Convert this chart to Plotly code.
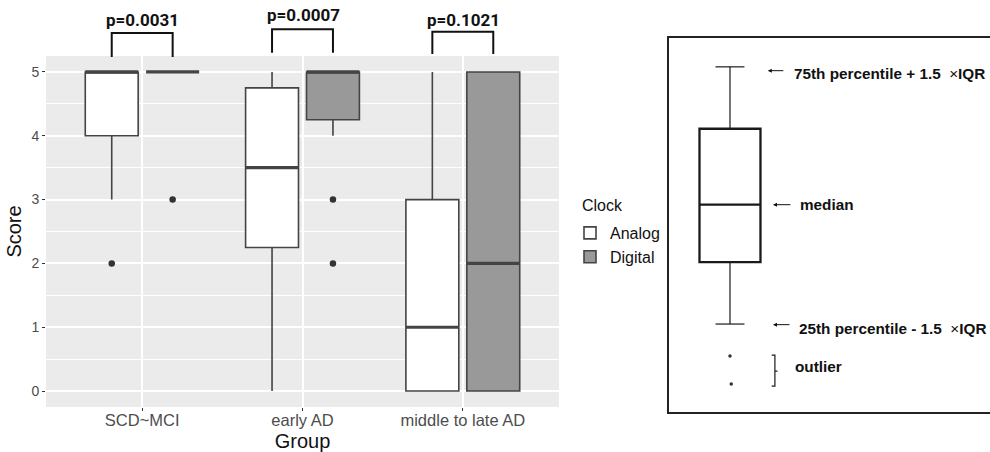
import plotly.graph_objects as go

# ---------------- data ----------------
categories = ["SCD~MCI", "early AD", "middle to late AD"]

analog_q1 = [4, 2.25, 0]
analog_median = [5, 3.5, 1]
analog_q3 = [5, 4.75, 3]
analog_lower = [3, 0, 0]
analog_upper = [5, 5, 5]
analog_outlier_group = [0]
analog_outlier_value = [2]

digital_q1 = [5, 4.25, 0]
digital_median = [5, 5, 2]
digital_q3 = [5, 5, 5]
digital_lower = [5, 4, 0]
digital_upper = [5, 5, 5]
digital_outlier_group = [0, 1, 1]
digital_outlier_value = [3, 3, 2]

p_labels = ["p=0.0031", "p=0.0007", "p=0.1021"]
bracket_top = [5.61, 5.67, 5.63]
bracket_bottom = [5.235, 5.30, 5.28]

# schematic (legend) box on the right
legend_box_q1 = [2.02]
legend_box_median = [2.92]
legend_box_q3 = [4.11]
legend_box_lower = [1.05]
legend_box_upper = [5.08]
legend_box_outliers = [0.55, 0.11]

# ---------------- style ----------------
W, H = 990, 452
ML, MR, MT, MB = 46, 0, 56, 45
PW = W - ML - MR
PH = H - MT - MB
LINE = "#444444"
FONT = "Liberation Sans, Arial, sans-serif"
YR = [-0.25, 5.25]

def paper_y(v):
    return (v - YR[0]) / (YR[1] - YR[0])

def paper_y_px(py):
    return (MT + PH - py) / PH

def paper_x_px(px):
    return (px - ML) / PW

pos = [1, 2, 3]
off = 0.19
bw = 0.33
a_pos = [p - off for p in pos]
d_pos = [p + off for p in pos]

fig = go.Figure()

fig.add_trace(go.Box(
    name="Analog", x=a_pos, q1=analog_q1, median=analog_median, q3=analog_q3,
    lowerfence=analog_lower, upperfence=analog_upper, width=bw,
    fillcolor="white", line=dict(color=LINE, width=1.6), whiskerwidth=0,
    boxpoints=False, xaxis="x", yaxis="y"))
fig.add_trace(go.Box(
    name="Digital", x=d_pos, q1=digital_q1, median=digital_median, q3=digital_q3,
    lowerfence=digital_lower, upperfence=digital_upper, width=bw,
    fillcolor="#999999", line=dict(color=LINE, width=1.6), whiskerwidth=0,
    boxpoints=False, xaxis="x", yaxis="y"))

fig.add_trace(go.Scatter(
    x=[a_pos[i] for i in analog_outlier_group], y=analog_outlier_value,
    mode="markers", marker=dict(size=6.5, color="#333333"), showlegend=False,
    xaxis="x", yaxis="y"))
fig.add_trace(go.Scatter(
    x=[d_pos[i] for i in digital_outlier_group], y=digital_outlier_value,
    mode="markers", marker=dict(size=6.5, color="#333333"), showlegend=False,
    xaxis="x", yaxis="y"))

shapes = [dict(type="rect", xref="x domain", yref="y domain", x0=0, x1=1, y0=0, y1=1,
               fillcolor="#EBEBEB", line=dict(width=0), layer="below")]

# thicker median lines
for xs, meds in ((a_pos, analog_median), (d_pos, digital_median)):
    for xc, m in zip(xs, meds):
        shapes.append(dict(type="line", xref="x", yref="y", x0=xc - bw / 2, x1=xc + bw / 2,
                           y0=m, y1=m, line=dict(color=LINE, width=3.2)))

annotations = []
# significance brackets
for i, p in enumerate(pos):
    yb, yt = paper_y(bracket_bottom[i]), paper_y(bracket_top[i])
    shapes.append(dict(type="path", xref="x", yref="paper",
                       path=f"M{a_pos[i]},{yb} L{a_pos[i]},{yt} L{d_pos[i]},{yt} L{d_pos[i]},{yb}",
                       line=dict(color="#111111", width=2)))
    annotations.append(dict(xref="x", yref="paper", x=p + 0.005, y=paper_y_px(19.5 - 4 * (i == 1)),
                            yanchor="middle", text="<b>" + p_labels[i] + "</b>", showarrow=False,
                            font=dict(family="Roboto, Liberation Sans, sans-serif", size=17, color="#111111")))

# legend title as free text
annotations.append(dict(xref="paper", yref="paper", x=paper_x_px(580), y=paper_y_px(205),
                        xanchor="left", yanchor="middle", text="Clock", showarrow=False,
                        font=dict(family=FONT, size=16, color="#111111")))

# ---------------- schematic inset ----------------
c = 0.1925
cap = 0.045
fig.add_trace(go.Box(
    x=[c], q1=legend_box_q1, median=legend_box_median, q3=legend_box_q3,
    lowerfence=legend_box_q1, upperfence=legend_box_q3, width=0.1894,
    fillcolor="white", line=dict(color="#1a1a1a", width=2.3), whiskerwidth=0,
    boxpoints=False, showlegend=False, xaxis="x2", yaxis="y2"))
fig.add_trace(go.Scatter(
    x=[c, c, None, c, c, None, c - cap, c + cap, None, c - cap, c + cap],
    y=[legend_box_q3[0], legend_box_upper[0], None, legend_box_q1[0], legend_box_lower[0], None,
       legend_box_upper[0], legend_box_upper[0], None, legend_box_lower[0], legend_box_lower[0]],
    mode="lines", line=dict(color="#1a1a1a", width=1.2), showlegend=False,
    xaxis="x2", yaxis="y2"))
fig.add_trace(go.Scatter(
    x=[c, c + 0.004], y=legend_box_outliers, mode="markers",
    marker=dict(size=3.5, color="#333333"), showlegend=False, xaxis="x2", yaxis="y2"))

# frame
shapes.append(dict(type="rect", xref="paper", yref="paper",
                   x0=paper_x_px(668), x1=1.02, y0=paper_y_px(413), y1=paper_y_px(37),
                   line=dict(color="#222222", width=2), fillcolor="rgba(0,0,0,0)"))
# outlier bracket
shapes.append(dict(type="path", xref="x2", yref="y2",
                   path="M0.322,0.564 L0.332,0.564 L0.332,0.313 L0.340,0.313 L0.332,0.313 L0.332,0.078 L0.322,0.078",
                   line=dict(color="#1a1a1a", width=1.2)))

ifont = dict(family=FONT, size=15.3, color="#111111")
labels = [
    (0.386, 4.98, "<b>75th percentile + 1.5 </b> ×<b>IQR</b>", 0.31, 5.02, 17),
    (0.404, legend_box_median[0], "<b>median</b>", 0.326, legend_box_median[0], 19),
    (0.400, 0.98, "<b>25th percentile - 1.5 </b> ×<b>IQR</b>", 0.326, 1.04, 18),
    (0.388, 0.39, "<b>outlier</b>", None, None, None),
]
for tx, ty, txt, axp, ayp, alen in labels:
    annotations.append(dict(xref="x2", yref="y2", x=tx, y=ty, text=txt, showarrow=False,
                            xanchor="left", yanchor="middle", font=ifont))
    if axp is not None:
        annotations.append(dict(xref="x2", yref="y2", x=axp, y=ayp, text="", showarrow=True,
                                ax=alen, ay=0, arrowhead=2, arrowsize=0.8, arrowwidth=1,
                                arrowcolor="#111111", standoff=0))

fig.update_layout(
    width=W, height=H,
    margin=dict(l=ML, r=MR, t=MT, b=MB),
    paper_bgcolor="white", plot_bgcolor="white",
    font=dict(family=FONT, color="#111111"),
    shapes=shapes, annotations=annotations,
    boxmode="overlay",
    legend=dict(x=paper_x_px(570), y=paper_y_px(216), xanchor="left", yanchor="top",
                font=dict(size=16, color="#111111"), bgcolor="rgba(0,0,0,0)",
                tracegroupgap=0),
    xaxis=dict(domain=[0, paper_x_px(559)], range=[0.4, 3.6], tickvals=pos, ticktext=categories,
               showgrid=True, gridcolor="white", gridwidth=1.5, zeroline=False,
               ticks="outside", ticklen=3, tickcolor="#333333", tickwidth=1,
               tickfont=dict(size=16.5, color="#4D4D4D"), ticklabelstandoff=-5,
               title=dict(text="Group", font=dict(size=20, color="#111111"), standoff=8),
               anchor="y"),
    yaxis=dict(range=YR, tickvals=[0, 1, 2, 3, 4, 5], showgrid=True, gridcolor="white",
               gridwidth=1.5, zeroline=False, ticks="outside", ticklen=3, tickcolor="#333333",
               tickwidth=1, tickfont=dict(size=14, color="#4D4D4D"),
               minor=dict(tickvals=[0.5, 1.5, 2.5, 3.5, 4.5], showgrid=True, gridcolor="white",
                          gridwidth=0.7, ticks=""),
               title=dict(text="Score", font=dict(size=20, color="#111111"), standoff=4),
               anchor="x"),
    xaxis2=dict(domain=[paper_x_px(668), 1], range=[0, 1], visible=False, anchor="y2"),
    yaxis2=dict(domain=[0, 1], range=YR, visible=False, anchor="x2"),
)

fig.write_html("out.html", config={"displayModeBar": False},
               post_script="document.body.style.margin='0';document.body.style.overflow='hidden';")
